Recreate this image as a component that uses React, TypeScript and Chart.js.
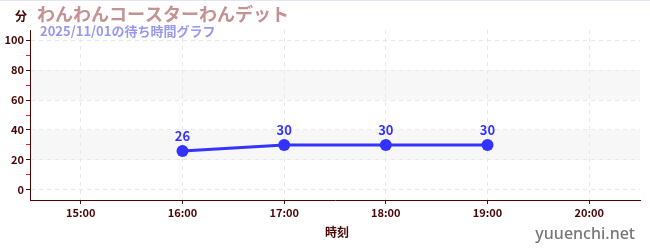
import React, { useEffect, useRef } from "react";
import { Chart, registerables } from "chart.js";

Chart.register(...registerables);

const titleText = "わんわんコースターわんデット";
const subtitleText = "2025/11/01の待ち時間グラフ";
const yUnit = "分";
const xTitle = "時刻";
const watermark = "yuuenchi.net";

const hours = [16, 17, 18, 19];
const waits = [26, 30, 30, 30];
const xTickHours = [15, 16, 17, 18, 19, 20];
const yTicks = [0, 10, 20, 30, 40, 50, 60, 70, 80, 90, 100];
const bands = [
  [20, 40],
  [60, 80],
];

const FONT = "'Noto Sans CJK JP', 'Noto Sans', sans-serif";
const MAROON = "#4a0505";
const BLUE = "#3333ff";

const overlay = {
  id: "overlay",
  beforeDraw(chart: any) {
    const { ctx, chartArea, scales } = chart;
    const y = scales.y;
    ctx.save();
    ctx.fillStyle = "#f7f7f7";
    for (const [a, b] of bands) {
      const top = y.getPixelForValue(b);
      const bot = y.getPixelForValue(a);
      ctx.fillRect(chartArea.left, top, chartArea.right - chartArea.left, bot - top);
    }
    ctx.restore();
  },
  afterDraw(chart: any) {
    const { ctx, chartArea } = chart;
    const meta = chart.getDatasetMeta(0);
    ctx.save();
    ctx.fillStyle = BLUE;
    ctx.font = `bold 13px ${FONT}`;
    ctx.textAlign = "center";
    ctx.textBaseline = "middle";
    meta.data.forEach((pt: any, i: number) => {
      ctx.fillText(String(waits[i]), pt.x, pt.y - 15);
    });
    ctx.fillStyle = "#e4e4fa";
    ctx.fillRect(0, 0, chart.width, 1);
    ctx.textAlign = "left";
    ctx.fillStyle = "#c49292";
    ctx.font = `bold 18px ${FONT}`;
    ctx.fillText(titleText, 37, 14);
    ctx.fillStyle = "#9898f0";
    ctx.font = `bold 13px ${FONT}`;
    ctx.fillText(subtitleText, 40, 31);
    ctx.fillStyle = MAROON;
    ctx.font = `bold 12px ${FONT}`;
    ctx.textAlign = "center";
    ctx.fillText(yUnit, 21, 16);
    ctx.fillText(xTitle, (chartArea.left + chartArea.right) / 2 + 2, 232);
    ctx.fillStyle = "#777777";
    ctx.font = `500 16px 'Noto Sans', sans-serif`;
    ctx.textAlign = "right";
    ctx.fillText(watermark, 635, 234);
    ctx.restore();
  },
};

export default function App() {
  const ref = useRef<HTMLCanvasElement | null>(null);
  useEffect(() => {
    document.body.style.margin = "0";
    const chart = new Chart(ref.current as HTMLCanvasElement, {
      type: "line",
      data: {
        datasets: [
          {
            data: hours.map((h, i) => ({ x: h, y: waits[i] })),
            borderColor: BLUE,
            backgroundColor: BLUE,
            borderWidth: 3,
            pointRadius: 6,
            pointHoverRadius: 6,
            pointBackgroundColor: BLUE,
            pointBorderWidth: 0,
            tension: 0,
          },
        ],
      },
      options: {
        animation: false,
        responsive: false,
        maintainAspectRatio: false,
        layout: { padding: { left: 0, right: 10, top: 30, bottom: 0 } },
        plugins: {
          legend: { display: false },
          title: { display: false },
          tooltip: { enabled: false },
        },
        scales: {
          x: {
            type: "linear",
            min: 14.5,
            max: 20.5,
            afterFit: (s: any) => {
              s.height = 50;
            },
            afterBuildTicks: (s: any) => {
              s.ticks = xTickHours.map((v) => ({ value: v }));
            },
            border: { display: true, color: MAROON, width: 1, dash: [4, 4] },
            grid: {
              color: "#e8e8e8",
              tickBorderDash: [],
              tickColor: "#222",
              tickLength: 4,
              lineWidth: 1,
            } as any,
            ticks: {
              color: MAROON,
              font: { family: FONT, size: 11, weight: "bold" },
              padding: 2,
              autoSkip: false,
              maxRotation: 0,
              callback: (v: any) => `${v}:00`,
            },
          },
          y: {
            type: "linear",
            min: -6.67,
            max: 106.67,
            afterFit: (s: any) => {
              s.width = 30;
            },
            afterBuildTicks: (s: any) => {
              s.ticks = yTicks.map((v) => ({ value: v }));
            },
            border: { display: true, color: MAROON, width: 1, dash: [4, 4] },
            grid: {
              color: (c: any) => (c.tick && c.tick.value % 20 === 0 ? "#e8e8e8" : "rgba(0,0,0,0)"),
              tickColor: (c: any) => (c.tick && c.tick.value % 20 === 0 ? "#222" : "#e02020"),
              tickBorderDash: [],
              tickLength: 4,
              lineWidth: 1,
            } as any,
            ticks: {
              color: MAROON,
              font: { family: FONT, size: 11, weight: "bold" },
              padding: 2,
              autoSkip: false,
              callback: (v: any) => (v % 20 === 0 ? String(v) : ""),
            },
          },
        },
      },
      plugins: [overlay],
    });
    return () => chart.destroy();
  }, []);
  return (
    <div style={{ width: 650, height: 250 }}>
      <canvas ref={ref} width={650} height={250} style={{ display: "block" }} />
    </div>
  );
}
